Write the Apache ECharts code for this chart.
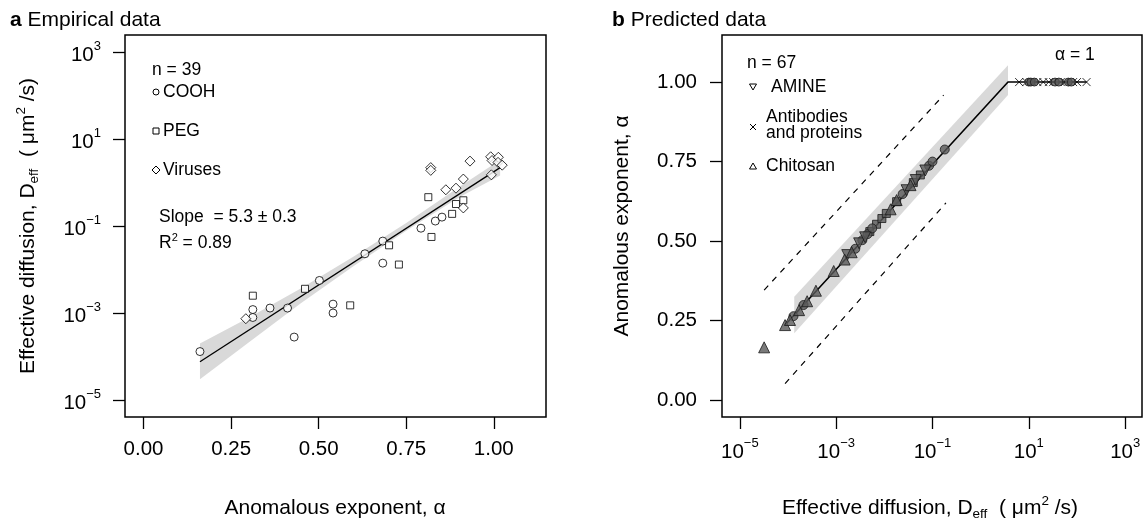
<!DOCTYPE html>
<html>
<head>
<meta charset="utf-8">
<script src="https://cdn.jsdelivr.net/npm/echarts@6.0.0/dist/echarts.min.js"></script>
<style>
  html, body { margin: 0; padding: 0; background: #fff; }
  #chart { width: 1145px; height: 524px; }
</style>
</head>
<body>
<div id="chart"></div>
<script>
// ---- panel a: empirical data (alpha vs D_eff, µm²/s) ----
const coohAlpha = [0.161, 0.312, 0.312, 0.361, 0.411, 0.430, 0.502, 0.541, 0.541, 0.632, 0.683, 0.683, 0.792, 0.833, 0.852];
const coohD = [1.3e-4, 1.2e-3, 7.9e-4, 1.3e-3, 1.3e-3, 2.8e-4, 5.6e-3, 1.6e-3, 1.0e-3, 2.3e-2, 4.5e-2, 1.4e-2, 8.9e-2, 0.13, 0.16];
const pegAlpha = [0.312, 0.461, 0.590, 0.701, 0.729, 0.813, 0.822, 0.881, 0.892, 0.913];
const pegD = [2.5e-3, 3.6e-3, 1.5e-3, 3.6e-2, 1.3e-2, 0.46, 5.6e-2, 0.19, 0.32, 0.39];
const virusAlpha = [0.292, 0.820, 0.820, 0.863, 0.892, 0.913, 0.913, 0.932, 0.991, 0.995, 1.013, 1.012, 1.024, 0.993];
const virusD = [7.4e-4, 2.2, 1.9, 0.68, 0.74, 1.2, 0.26, 3.1, 3.9, 3.2, 3.8, 2.9, 2.5, 1.5];

const fitAlphaA = [0.161, 1.018];
const fitDA = [7.6e-5, 2.2];
const bandAlphaA = [0.161, 0.3, 0.45, 0.6, 0.75, 0.9, 1.018];
const bandUpperA = [2.0e-4, 7.8e-4, 3.7e-3, 2.0e-2, 0.117, 0.78, 3.3];
const bandLowerA = [3.0e-5, 2.1e-4, 1.7e-3, 1.2e-2, 0.078, 0.45, 1.45];

const alphaTicks = [0, 0.25, 0.5, 0.75, 1];
const dTicks = [1e-5, 1e-3, 1e-1, 1e1, 1e3];

// ---- panel b: predicted data (D_eff vs alpha) ----
const chitosanD = [3.2e-5, 8.7e-5, 1.1e-4, 1.7e-4, 2.5e-4, 3.8e-4, 8.9e-4, 1.5e-3, 2.1e-3, 1.35e-2, 1.8e-2, 3.5e-2];
const chitosanAlpha = [0.166, 0.236, 0.252, 0.283, 0.311, 0.344, 0.406, 0.442, 0.465, 0.600, 0.629, 0.676];
const amineD = [1.7e-3, 3.0e-3, 4.0e-3, 2.9e-2, 4.5e-2, 7.1e-2];
const amineAlpha = [0.456, 0.493, 0.512, 0.660, 0.692, 0.722];
const circD = [1.3e-4, 2.1e-4, 2.5e-3, 3.5e-3, 4.5e-3, 5.6e-3, 2.4e-2, 8.5e-2, 0.1, 0.18];
const circAlpha = [0.264, 0.299, 0.476, 0.503, 0.522, 0.540, 0.648, 0.737, 0.750, 0.788];
const sqD = [5.0e-3, 6.9e-3, 8.9e-3, 1.1e-2, 1.8e-2, 4.0e-2, 5.6e-2];
const sqAlpha = [0.530, 0.553, 0.571, 0.587, 0.624, 0.684, 0.708];
const protD = [6.3, 8.9, 12, 15, 20, 26, 32, 46, 56, 83, 100, 158];
const protAlpha = [1, 1, 1, 1, 1, 1, 1, 1, 1, 1, 1, 1];
const protCircD = [10, 11, 13, 35, 42, 66, 76];
const protCircAlpha = [1, 1, 1, 1, 1, 1, 1];

const fitDB = [8.7e-5, 3.7, 158];
const fitAlphaB = [0.236, 1.0, 1.0];
const bandDB = [1.35e-4, 3.7];
const bandUpperB = [0.325, 1.053];
const bandLowerB = [0.21, 0.959];
const dashUpD = [3.2e-5, 0.17];
const dashUpAlpha = [0.346, 0.959];
const dashLoD = [8.7e-5, 0.19];
const dashLoAlpha = [0.052, 0.62];

const FONT = '"Liberation Sans", Arial, Helvetica, sans-serif';
const zip = (xs, ys) => xs.map((x, i) => [x, ys[i]]);
const powLabel = v => '{n|10}{sup|' + String(Math.round(Math.log10(v))).replace('-', '\u2212') + '}';
const powRich = {
  n: { fontSize: 20.5, fontFamily: FONT, color: '#000', lineHeight: 30, verticalAlign: 'middle' },
  sup: { fontSize: 13, fontFamily: FONT, color: '#000', verticalAlign: 'top' }
};
const tick = vals => ({ show: true, inside: false, length: 12, customValues: vals, lineStyle: { color: '#000', width: 1.3 } });
const noLine = { show: false, onZero: false };

function bandPolygon(xs, upper, lower) {
  return function (params, api) {
    const pts = [];
    xs.forEach((x, i) => pts.push(api.coord([x, upper[i]])));
    for (let i = xs.length - 1; i >= 0; i--) pts.push(api.coord([xs[i], lower[i]]));
    return { type: 'polygon', shape: { points: pts }, style: { fill: '#d9d9d9' } };
  };
}

const openStyle = { color: '#fff', borderColor: '#000', borderWidth: 1 };
const fillStyle = { color: '#595959', borderColor: '#1a1a1a', borderWidth: 1 };

const t = (x, y, text, size, extra) => Object.assign({
  type: 'text', x: x, y: y, silent: true,
  style: { text: text, fontSize: size, fontFamily: FONT, fill: '#000', align: 'left', verticalAlign: 'middle' }
}, extra || {});
const titleRich = {
  n: { fontSize: 21, fontFamily: FONT, lineHeight: 27, verticalAlign: 'middle' },
  b: { fontSize: 21, fontFamily: FONT, fontWeight: 'bold', lineHeight: 27, verticalAlign: 'middle' },
  sub: { fontSize: 13.5, fontFamily: FONT, verticalAlign: 'bottom' },
  sup: { fontSize: 13.5, fontFamily: FONT, verticalAlign: 'top' }
};
const richText = (x, y, text, rot, align) => ({
  type: 'text', x: x, y: y, rotation: rot || 0, silent: true,
  style: { text: text, rich: titleRich, fill: '#000', align: align || 'center', verticalAlign: 'middle' }
});
const legendRich = {
  n: { fontSize: 17.5, fontFamily: FONT, lineHeight: 22, verticalAlign: 'middle' },
  sup: { fontSize: 11, fontFamily: FONT, verticalAlign: 'top' }
};
const LEG = 17.5;

const chart = echarts.init(document.getElementById('chart'));
chart.setOption({
  animation: false,
  backgroundColor: '#fff',
  grid: [
    { left: 125, top: 35, width: 421, height: 382, show: true, borderColor: '#000', borderWidth: 1.5, backgroundColor: 'transparent' },
    { left: 722, top: 35, width: 420, height: 382, show: true, borderColor: '#000', borderWidth: 1.5, backgroundColor: 'transparent' }
  ],
  xAxis: [
    {
      gridIndex: 0, type: 'value', min: -0.053, max: 1.149,
      axisLine: noLine, splitLine: { show: false },
      axisTick: tick(alphaTicks),
      axisLabel: { customValues: alphaTicks, formatter: v => v.toFixed(2), margin: 22, fontSize: 20.5, fontFamily: FONT, color: '#000' }
    },
    {
      gridIndex: 1, type: 'log', logBase: 10, min: Math.pow(10, -5.37), max: Math.pow(10, 3.35),
      axisLine: noLine, splitLine: { show: false },
      axisTick: tick(dTicks),
      axisLabel: { customValues: dTicks, formatter: powLabel, rich: powRich, margin: 20 }
    }
  ],
  yAxis: [
    {
      gridIndex: 0, type: 'log', logBase: 10, min: Math.pow(10, -5.39), max: Math.pow(10, 3.39),
      axisLine: noLine, splitLine: { show: false },
      axisTick: tick(dTicks),
      axisLabel: { customValues: dTicks, formatter: powLabel, rich: powRich, margin: 24, padding: [6, 0, 0, 0] }
    },
    {
      gridIndex: 1, type: 'value', min: -0.053, max: 1.148,
      axisLine: noLine, splitLine: { show: false },
      axisTick: tick(alphaTicks),
      axisLabel: { customValues: alphaTicks, formatter: v => v.toFixed(2), margin: 25, fontSize: 20.5, fontFamily: FONT, color: '#000' }
    }
  ],
  series: [
    // panel a
    { type: 'custom', xAxisIndex: 0, yAxisIndex: 0, silent: true, z: 1, data: [[bandAlphaA[0], bandUpperA[0]]],
      renderItem: bandPolygon(bandAlphaA, bandUpperA, bandLowerA) },
    { type: 'line', xAxisIndex: 0, yAxisIndex: 0, data: zip(fitAlphaA, fitDA), symbol: 'none', silent: true, z: 2,
      lineStyle: { color: '#000', width: 1.3 } },
    { type: 'scatter', xAxisIndex: 0, yAxisIndex: 0, data: zip(coohAlpha, coohD), symbol: 'circle', symbolSize: 8, itemStyle: openStyle, z: 3 },
    { type: 'scatter', xAxisIndex: 0, yAxisIndex: 0, data: zip(pegAlpha, pegD), symbol: 'rect', symbolSize: 7, itemStyle: openStyle, z: 3 },
    { type: 'scatter', xAxisIndex: 0, yAxisIndex: 0, data: zip(virusAlpha, virusD), symbol: 'diamond', symbolSize: 10, itemStyle: openStyle, z: 3 },
    // panel b
    { type: 'custom', xAxisIndex: 1, yAxisIndex: 1, silent: true, z: 1, data: [[bandDB[0], bandUpperB[0]]],
      renderItem: bandPolygon(bandDB, bandUpperB, bandLowerB) },
    { type: 'line', xAxisIndex: 1, yAxisIndex: 1, data: zip(dashUpD, dashUpAlpha), symbol: 'none', silent: true, z: 2,
      lineStyle: { color: '#000', width: 1.2, type: [6, 6] } },
    { type: 'line', xAxisIndex: 1, yAxisIndex: 1, data: zip(dashLoD, dashLoAlpha), symbol: 'none', silent: true, z: 2,
      lineStyle: { color: '#000', width: 1.2, type: [6, 6] } },
    { type: 'line', xAxisIndex: 1, yAxisIndex: 1, data: zip(fitDB, fitAlphaB), symbol: 'none', silent: true, z: 2,
      lineStyle: { color: '#000', width: 1.6 } },
    { type: 'scatter', xAxisIndex: 1, yAxisIndex: 1, data: zip(protD, protAlpha), symbolSize: 8, z: 3,
      symbol: 'path://M0,0L10,10M10,0L0,10', itemStyle: { color: 'transparent', borderColor: '#000', borderWidth: 1 } },
    { type: 'scatter', xAxisIndex: 1, yAxisIndex: 1, data: zip(protCircD, protCircAlpha), symbol: 'circle', symbolSize: 8, itemStyle: fillStyle, z: 3 },
    { type: 'scatter', xAxisIndex: 1, yAxisIndex: 1, data: zip(sqD, sqAlpha), symbol: 'rect', symbolSize: 8, itemStyle: fillStyle, z: 3 },
    { type: 'scatter', xAxisIndex: 1, yAxisIndex: 1, data: zip(circD, circAlpha), symbol: 'circle', symbolSize: 9, itemStyle: fillStyle, z: 3 },
    { type: 'scatter', xAxisIndex: 1, yAxisIndex: 1, data: zip(amineD, amineAlpha), symbol: 'triangle', symbolRotate: 180, symbolSize: 11, itemStyle: fillStyle, z: 3 },
    { type: 'scatter', xAxisIndex: 1, yAxisIndex: 1, data: zip(chitosanD, chitosanAlpha), symbol: 'triangle', symbolSize: 11, itemStyle: fillStyle, z: 3 }
  ],
  graphic: [
    richText(10, 20, '{b|a}{n| Empirical data}', 0, 'left'),
    richText(612, 20, '{b|b}{n| Predicted data}', 0, 'left'),
    richText(335, 508, '{n|Anomalous exponent, α}'),
    richText(28, 226, '{n|Effective diffusion, D}{sub|eff}{n|  ( μm}{sup|2}{n| /s)}', Math.PI / 2),
    richText(930, 508, '{n|Effective diffusion, D}{sub|eff}{n|  ( μm}{sup|2}{n| /s)}'),
    richText(622, 226, '{n|Anomalous exponent, α}', Math.PI / 2),
    // panel a annotations
    t(152, 70, 'n = 39', LEG),
    { type: 'circle', silent: true, shape: { cx: 156, cy: 92, r: 3 }, style: { fill: '#fff', stroke: '#000', lineWidth: 1 } },
    t(163, 92, 'COOH', LEG),
    { type: 'rect', silent: true, shape: { x: 153, y: 128, width: 6, height: 6 }, style: { fill: '#fff', stroke: '#000', lineWidth: 1 } },
    t(163, 131, 'PEG', LEG),
    { type: 'polygon', silent: true, shape: { points: [[156, 166], [160, 170], [156, 174], [152, 170]] }, style: { fill: '#fff', stroke: '#000', lineWidth: 1 } },
    t(163, 170, 'Viruses', LEG),
    t(159, 217, 'Slope  = 5.3 ± 0.3', LEG),
    { type: 'text', x: 159, y: 243, silent: true, style: { text: '{n|R}{sup|2}{n| = 0.89}', rich: legendRich, fill: '#000', align: 'left', verticalAlign: 'middle' } },
    // panel b annotations
    t(747, 63, 'n = 67', LEG),
    { type: 'polygon', silent: true, shape: { points: [[749.5, 84], [756.5, 84], [753, 90]] }, style: { fill: '#fff', stroke: '#000', lineWidth: 1 } },
    t(771, 87, 'AMINE', LEG),
    { type: 'line', silent: true, shape: { x1: 750, y1: 124, x2: 756, y2: 130 }, style: { stroke: '#000', lineWidth: 1 } },
    { type: 'line', silent: true, shape: { x1: 756, y1: 124, x2: 750, y2: 130 }, style: { stroke: '#000', lineWidth: 1 } },
    t(766, 117, 'Antibodies', LEG),
    t(766, 133, 'and proteins', LEG),
    { type: 'polygon', silent: true, shape: { points: [[753, 163], [756.5, 169], [749.5, 169]] }, style: { fill: '#fff', stroke: '#000', lineWidth: 1 } },
    t(766, 166, 'Chitosan', LEG),
    t(1055, 55, 'α = 1', LEG)
  ]
});
</script>
</body>
</html>
